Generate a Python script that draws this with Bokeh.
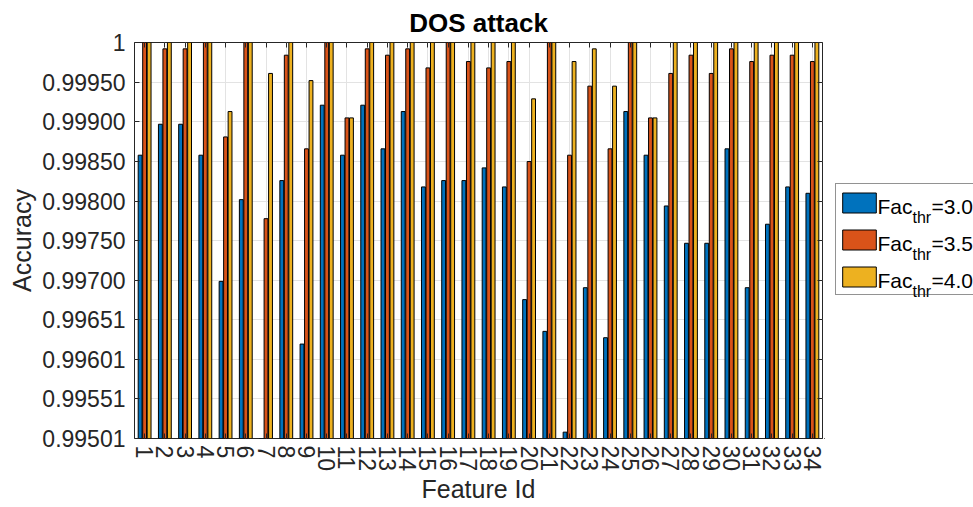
from bokeh.plotting import figure
from bokeh.layouts import row
from bokeh.models import (Range1d, FixedTicker, LinearAxis, Legend, LegendItem,
                          Label, ColumnDataSource)
from bokeh.embed import file_html
from bokeh.resources import INLINE

# ---------------- data ----------------
feature_ids = list(range(1, 35))
acc_thr30 = [0.99858, 0.99897, 0.99897, 0.99858, 0.99699, 0.99802, 0.99480, 0.99826,
             0.99620, 0.99921, 0.99858, 0.99921, 0.99866, 0.99913, 0.99818, 0.99826,
             0.99826, 0.99842, 0.99818, 0.99676, 0.99636, 0.99509, 0.99691, 0.99628,
             0.99913, 0.99858, 0.99794, 0.99747, 0.99747, 0.99866, 0.99691, 0.99771,
             0.99818, 0.99810]
acc_thr35 = [1.0, 0.99992, 0.99992, 1.0, 0.99881, 1.0, 0.99778, 0.99984,
             0.99866, 1.0, 0.99905, 0.99992, 0.99984, 0.99992, 0.99968, 1.0,
             0.99976, 0.99968, 0.99976, 0.99850, 1.0, 0.99858, 0.99945, 0.99866,
             1.0, 0.99905, 0.99961, 0.99984, 0.99961, 0.99992, 0.99976, 0.99984,
             0.99984, 0.99976]
acc_thr40 = [1.0, 1.0, 1.0, 1.0, 0.99913, 1.0, 0.99961, 1.0,
             0.99952, 1.0, 0.99905, 1.0, 1.0, 1.0, 1.0, 1.0,
             1.0, 1.0, 1.0, 0.99929, 1.0, 0.99976, 0.99992, 0.99945,
             1.0, 0.99905, 1.0, 1.0, 1.0, 1.0, 1.0, 1.0,
             1.0, 1.0]
series_names = ["3.0", "3.5", "4.0"]
y_tick_values = [0.99501, 0.99551, 0.99601, 0.99651, 0.99700, 0.99750,
                 0.99800, 0.99850, 0.99900, 0.99950, 1.0]
y_tick_labels = ["0.99501", "0.99551", "0.99601", "0.99651", "0.99700", "0.99750",
                 "0.99800", "0.99850", "0.99900", "0.99950", "1"]

# ---------------- style ----------------
colors = ["#0072BD", "#D95319", "#EDB120"]
offsets = [-0.222, 0.0, 0.222]
bar_w = 0.19
FONT = "Liberation Sans"
TXT = "#262626"
BASE = 0.99
TOP_B, BOT_B = 42, 69

p = figure(width=824, height=507, output_backend="svg", toolbar_location=None,
           x_range=Range1d(0.5, 34.5), y_range=Range1d(0.99501, 1.0),
           min_border_left=134, min_border_right=2, min_border_top=TOP_B,
           min_border_bottom=BOT_B)
p.background_fill_color = "white"
p.border_fill_color = "white"
p.outline_line_color = TXT
p.outline_line_width = 1

renderers = []
for vals, off, col in zip([acc_thr30, acc_thr35, acc_thr40], offsets, colors):
    src = ColumnDataSource(dict(x=[f + off for f in feature_ids], top=vals,
                                bottom=[BASE] * len(vals)))
    r = p.vbar(x="x", top="top", bottom="bottom", width=bar_w, source=src,
               fill_color=col, line_color="black", line_width=1)
    renderers.append(r)

# axes
p.xaxis.ticker = FixedTicker(ticks=feature_ids)
p.xaxis.major_label_orientation = "vertical"
p.yaxis.ticker = FixedTicker(ticks=y_tick_values)
p.yaxis.major_label_overrides = {v: s for v, s in zip(y_tick_values, y_tick_labels)}
for ax in [p.xaxis[0], p.yaxis[0]]:
    ax.axis_line_color = None
    ax.major_tick_in = 5
    ax.major_tick_out = 0
    ax.minor_tick_line_color = None
    ax.major_tick_line_color = TXT
    ax.major_label_text_font = FONT
    ax.major_label_text_font_size = "23px"
    ax.major_label_text_color = TXT
    ax.axis_label_text_font = FONT
    ax.axis_label_text_font_size = "25px"
    ax.axis_label_text_font_style = "normal"
    ax.axis_label_text_color = TXT
p.xaxis.axis_label = "Feature Id"
p.yaxis.axis_label = "Accuracy"
p.xaxis.major_label_standoff = 7
p.xaxis.axis_label_standoff = 1
p.yaxis.major_label_standoff = 9
p.yaxis.axis_label_standoff = 3

# mirrored ticks on top and right (no labels)
top_ax = LinearAxis(ticker=FixedTicker(ticks=feature_ids),
                    major_label_overrides={t: "" for t in feature_ids},
                    major_label_standoff=0, axis_line_color=None, major_tick_in=5,
                    major_tick_out=0, minor_tick_line_color=None, major_tick_line_color=TXT)
right_ax = LinearAxis(ticker=FixedTicker(ticks=y_tick_values),
                      major_label_overrides={t: "" for t in y_tick_values},
                      major_label_standoff=0, axis_line_color=None, major_tick_in=5,
                      major_tick_out=0, minor_tick_line_color=None, major_tick_line_color=TXT)
p.add_layout(top_ax, "above")
p.add_layout(right_ax, "right")

# grid
p.xgrid.ticker = FixedTicker(ticks=feature_ids)
p.ygrid.ticker = FixedTicker(ticks=y_tick_values)
p.grid.grid_line_color = "#e3e3e3"
p.grid.grid_line_width = 1

# title
p.title.text = "DOS attack"
p.title.text_font = FONT
p.title.text_font_size = "26px"
p.title.text_font_style = "bold"
p.title.text_color = "black"
p.title.align = "center"

# ---------------- legend panel (separate canvas so it is cut at the window edge) ----
lp = figure(width=149, height=507, output_backend="svg", toolbar_location=None,
            x_range=Range1d(0, 1), y_range=Range1d(0, 1),
            x_axis_type=None, y_axis_type=None,
            min_border_left=0, min_border_right=0, min_border_top=TOP_B,
            min_border_bottom=BOT_B)
lp.outline_line_color = None
lp.grid.visible = False
lp.background_fill_color = "white"
lp.border_fill_color = "white"

# invisible stand-ins (far outside the panel) that only give the legend its swatches
leg_renderers = []
for col in colors:
    leg_renderers.append(lp.vbar(x=[-50.0], top=[-50.0], bottom=[-60.0], width=0.2,
                                 fill_color=col, line_color="black", line_width=1))

legend = Legend(items=[LegendItem(label=" ", renderers=[r]) for r in leg_renderers],
                location=(11, 143), orientation="vertical",
                glyph_width=42, glyph_height=25, label_height=32, label_width=120,
                label_standoff=3, spacing=5, padding=2, margin=0,
                border_line_color=TXT, border_line_width=1,
                background_fill_color="white", background_fill_alpha=0.0,
                label_text_font=FONT, label_text_font_size="20px")
lp.add_layout(legend, "center")

for i, name in enumerate(series_names):
    base_y = 232 - 37 * i
    lp.add_layout(Label(x=53, y=base_y, x_units="screen", y_units="screen", text="Fac",
                        text_font=FONT, text_font_size="21px", text_color="black",
                        text_baseline="alphabetic", text_align="left", level="overlay"))
    lp.add_layout(Label(x=88, y=base_y - 11, x_units="screen", y_units="screen", text="thr",
                        text_font=FONT, text_font_size="16px", text_color="black",
                        text_baseline="alphabetic", text_align="left", level="overlay"))
    lp.add_layout(Label(x=107, y=base_y, x_units="screen", y_units="screen", text="=" + name,
                        text_font=FONT, text_font_size="21px", text_color="black",
                        text_baseline="alphabetic", text_align="left", level="overlay"))

open("out.html", "w").write(file_html(row(p, lp, spacing=0), INLINE))
